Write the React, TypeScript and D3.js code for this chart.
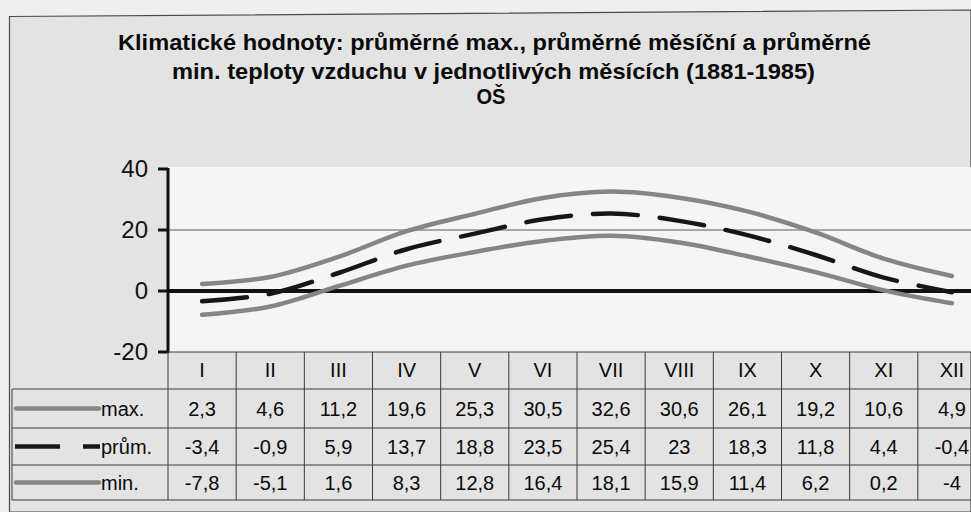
import React from "react";
import * as d3 from "d3";

const months = ["I", "II", "III", "IV", "V", "VI", "VII", "VIII", "IX", "X", "XI", "XII"];
const maxT = [2.3, 4.6, 11.2, 19.6, 25.3, 30.5, 32.6, 30.6, 26.1, 19.2, 10.6, 4.9];
const avgT = [-3.4, -0.9, 5.9, 13.7, 18.8, 23.5, 25.4, 23, 18.3, 11.8, 4.4, -0.4];
const minT = [-7.8, -5.1, 1.6, 8.3, 12.8, 16.4, 18.1, 15.9, 11.4, 6.2, 0.2, -4];
const yTicks = [-20, 0, 20, 40];
const seriesNames = ["max.", "prům.", "min."];
const titleLines = [
  "Klimatické hodnoty: průměrné max., průměrné měsíční a průměrné",
  "min. teploty vzduchu v jednotlivých měsících (1881-1985)",
  "OŠ",
];

const W = 971;
const H = 512;
const FONT = "'Liberation Sans', Arial, Helvetica, sans-serif";
const GRAY = "#858585";
const DARK = "#161616";

export default function App() {
  const x = d3.scaleBand<string>().domain(months).range([168, 986]).paddingInner(0).paddingOuter(0);
  const y = d3.scaleLinear().domain([-20, 40]).range([352, 169]);
  const cx = (m: string) => (x(m) as number) + x.bandwidth() / 2;
  const line = d3
    .line<number>()
    .x((_, i) => cx(months[i]))
    .y((v) => y(v))
    .curve(d3.curveCatmullRom.alpha(0.5));

  const series = [
    { name: seriesNames[0], values: maxT, color: GRAY, dash: undefined },
    { name: seriesNames[1], values: avgT, color: DARK, dash: "45 22" },
    { name: seriesNames[2], values: minT, color: GRAY, dash: undefined },
  ];

  const rowTop = [352, 389, 428, 465, 500];
  const tableLeft = 12;
  const plotLeft = 168;
  const fmt = (v: number) => String(v).replace(".", ",");
  const TFS = 20;

  return (
    <svg
      width={W}
      height={H}
      style={{ position: "absolute", left: 0, top: 0, display: "block" }}
      fontFamily={FONT}
    >
      <rect x={0} y={0} width={W} height={H} fill="#efefef" />
      {/* chart area */}
      <path d={`M9.5,16.5 L${W},10 L${W},${H} L9.5,${H} Z`} fill="#e3e3e3" stroke="#4a4a4a" strokeWidth={1.2} />
      {/* title */}
      {titleLines.map((t, i) => (
        <text
          key={i}
          x={i === 0 ? 494.5 : i === 1 ? 493.5 : 491}
          y={[50, 79, 104][i]}
          textAnchor="middle"
          fontWeight="bold"
          fontSize={22}
          fill="#0a0a0a"
          textLength={i === 0 ? 753 : i === 1 ? 643 : 29}
          lengthAdjust="spacingAndGlyphs"
        >
          {t}
        </text>
      ))}
      {/* plot area */}
      <rect x={plotLeft} y={167} width={W - plotLeft} height={352 - 167} fill="#f5f5f5" />
      {/* gridline at 20 */}
      <line x1={plotLeft} x2={W} y1={y(20)} y2={y(20)} stroke="#5a5a5a" strokeWidth={1} />
      {/* zero line */}
      <line x1={plotLeft} x2={W} y1={y(0)} y2={y(0)} stroke="#111" strokeWidth={4} />
      {/* y axis */}
      <line x1={plotLeft} x2={plotLeft} y1={y(40) - 1} y2={y(-20) + 1} stroke="#111" strokeWidth={3} />
      {yTicks.map((t) => (
        <g key={t}>
          <line x1={158} x2={plotLeft} y1={y(t)} y2={y(t)} stroke="#111" strokeWidth={3} />
          <text x={148} y={y(t) + 8} textAnchor="end" fontSize={24} fill="#111">
            {t}
          </text>
        </g>
      ))}
      {/* series */}
      <g clipPath="url(#plotclip)">
        {series.map((s) => (
          <path
            key={s.name}
            d={line(s.values) || ""}
            fill="none"
            stroke={s.color}
            strokeWidth={4.5}
            strokeDasharray={s.dash}
            strokeLinecap="round"
          />
        ))}
      </g>
      <defs>
        <clipPath id="plotclip">
          <rect x={plotLeft} y={160} width={W - plotLeft} height={200} />
        </clipPath>
      </defs>
      {/* table */}
      <g stroke="#3a3a3a" strokeWidth={1} fill="none">
        <line x1={plotLeft} x2={W} y1={rowTop[0]} y2={rowTop[0]} />
        {rowTop.slice(1).map((r) => (
          <line key={r} x1={tableLeft} x2={W} y1={r} y2={r} />
        ))}
        <line x1={tableLeft} x2={tableLeft} y1={rowTop[1]} y2={rowTop[4]} />
        <line x1={plotLeft} x2={plotLeft} y1={rowTop[0]} y2={rowTop[4]} />
        {months.map((m) => (
          <line key={m} x1={(x(m) as number) + x.bandwidth()} x2={(x(m) as number) + x.bandwidth()} y1={rowTop[0]} y2={rowTop[4]} />
        ))}
      </g>
      {months.map((m) => (
        <text key={m} x={cx(m)} y={(rowTop[0] + rowTop[1]) / 2 + 6} textAnchor="middle" fontSize={TFS} fill="#0a0a0a">
          {m}
        </text>
      ))}
      {series.map((s, r) => {
        const yc = (rowTop[r + 1] + rowTop[r + 2]) / 2;
        return (
          <g key={s.name}>
            {s.dash ? (
              <>
                <line x1={15} x2={60} y1={yc} y2={yc} stroke={s.color} strokeWidth={4.5} />
                <line x1={83} x2={100} y1={yc} y2={yc} stroke={s.color} strokeWidth={4.5} />
              </>
            ) : (
              <line x1={16} x2={99} y1={yc} y2={yc} stroke={s.color} strokeWidth={4.5} strokeLinecap="round" />
            )}
            <text x={101} y={yc + 7} fontSize={TFS} fill="#0a0a0a">
              {s.name}
            </text>
            {s.values.map((v, i) => (
              <text key={i} x={cx(months[i])} y={yc + 7} textAnchor="middle" fontSize={TFS} fill="#0a0a0a">
                {fmt(v)}
              </text>
            ))}
          </g>
        );
      })}
    </svg>
  );
}
